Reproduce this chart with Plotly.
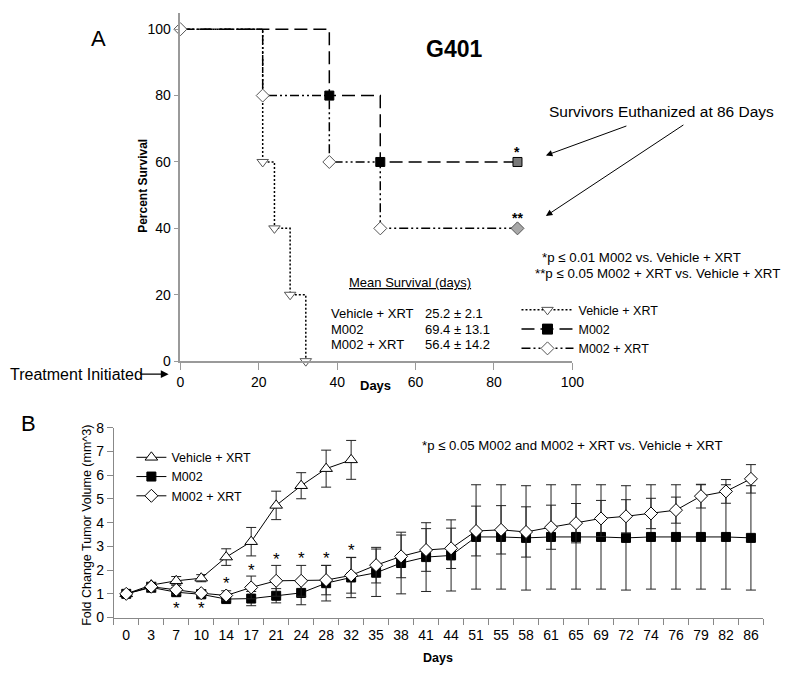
import plotly.graph_objects as go

W, H = 796, 678
FONT = "Arial, Liberation Sans, sans-serif"

# ---------------- Panel A data (Kaplan-Meier survival) ----------------
vehicle_days = [0, 21, 24, 28, 32]
vehicle_surv = [100, 60, 40, 20, 0]
m002_days = [0, 38, 51, 86]
m002_surv = [100, 80, 60, 60]
combo_days = [0, 21, 38, 51, 86]
combo_surv = [100, 80, 60, 40, 40]
series_names = ["Vehicle + XRT", "M002", "M002 + XRT"]
mean_survival = ["25.2 ± 2.1", "69.4 ± 13.1", "56.4 ± 14.2"]
xticks_a = [0, 20, 40, 60, 80, 100]
yticks_a = [0, 20, 40, 60, 80, 100]

# ---------------- Panel B data (tumor volume) ----------------
days_b = ["0", "3", "7", "10", "14", "17", "21", "24", "28", "32", "35", "38", "41",
          "44", "51", "55", "58", "61", "65", "69", "72", "74", "76", "79", "82", "86"]
vehicle_b = [1.0, 1.37, 1.55, 1.66, 2.55, 3.2, 4.73, 5.56, 6.28, 6.65]
vehicle_b_err = [0.05, 0.12, 0.18, 0.15, 0.35, 0.6, 0.6, 0.55, 0.78, 0.82]
m002_b = [1.0, 1.27, 1.07, 0.98, 0.78, 0.8, 0.92, 1.04, 1.45, 1.69, 1.89, 2.3, 2.55,
          2.62, 3.4, 3.4, 3.36, 3.4, 3.4, 3.4, 3.36, 3.4, 3.4, 3.4, 3.4, 3.36]
m002_b_err = [0.05, 0.2, 0.15, 0.15, 0.12, 0.3, 0.3, 0.5, 0.75, 0.85, 1.0, 1.3, 1.45,
              1.5, 2.2, 2.2, 2.2, 2.2, 2.2, 2.2, 2.2, 2.2, 2.2, 2.2, 2.2, 2.2]
combo_b = [1.0, 1.3, 1.17, 1.03, 0.93, 1.27, 1.55, 1.55, 1.58, 1.78, 2.21, 2.58, 2.85,
           2.92, 3.65, 3.7, 3.61, 3.81, 3.98, 4.18, 4.27, 4.39, 4.53, 5.12, 5.32, 5.85]
combo_b_err = [0.05, 0.15, 0.2, 0.15, 0.2, 0.48, 0.65, 0.65, 0.62, 0.75, 0.75, 0.9, 0.9,
               0.85, 1.05, 1.02, 1.06, 0.93, 0.83, 0.76, 0.7, 0.64, 0.55, 0.5, 0.5, 0.6]
star_days_b = ["7", "10", "14", "17", "21", "24", "28", "32"]
star_vals_b = [0.55, 0.55, 1.6, 2.17, 2.62, 2.65, 2.67, 2.99]


def px(x):
    return x / W


def py(y):
    return 1 - y / H


DASH_V = "2px,2px"
DASH_M = "13px,6px"
DASH_C = "9px,3px,2px,3px,2px,3px"

fig = go.Figure()

# ---- Panel A step lines ----
for d, s, dash in [(vehicle_days, vehicle_surv, DASH_V),
                   (m002_days, m002_surv, DASH_M),
                   (combo_days, combo_surv, DASH_C)]:
    fig.add_trace(go.Scatter(x=d, y=s, mode="lines", line=dict(shape="hv", color="black", width=1.5, dash=dash),
                             showlegend=False, hoverinfo="skip", cliponaxis=False, xaxis="x", yaxis="y"))

# ---- Panel A markers ----
fig.add_trace(go.Scatter(x=vehicle_days[1:], y=vehicle_surv[1:], mode="markers",
                         marker=dict(symbol="triangle-down", size=10, color="white", line=dict(color="#555", width=1)),
                         showlegend=False, cliponaxis=False, xaxis="x", yaxis="y"))
m_cols = ["black"] * (len(m002_days) - 2) + ["#7a7a7a"]
fig.add_trace(go.Scatter(x=m002_days[1:], y=m002_surv[1:], mode="markers",
                         marker=dict(symbol="square", size=9, color=m_cols, line=dict(color="black", width=1)),
                         showlegend=False, cliponaxis=False, xaxis="x", yaxis="y"))
c_cols = ["white"] * (len(combo_days) - 1) + ["#a8a8a8"]
fig.add_trace(go.Scatter(x=combo_days, y=combo_surv, mode="markers",
                         marker=dict(symbol="diamond", size=10, color=c_cols, line=dict(color="#555", width=1)),
                         showlegend=False, cliponaxis=False, xaxis="x", yaxis="y"))

# ---- Panel A legend entries ----
leg_a = [("triangle-down", "white", "#555", DASH_V),
         ("square", "black", "black", DASH_M),
         ("diamond", "white", "#555", DASH_C)]
for name, (sym, fc, lc, dash) in zip(series_names, leg_a):
    fig.add_trace(go.Scatter(x=[None], y=[None], mode="lines+markers", name=name,
                             line=dict(color="black", width=1.5, dash=dash),
                             marker=dict(symbol=sym, size=10, color=fc, line=dict(color=lc, width=1)),
                             legend="legend", xaxis="x", yaxis="y"))

# ---- Panel B ----
fig.add_trace(go.Scatter(x=days_b[:len(vehicle_b)], y=vehicle_b, mode="lines+markers", name="Vehicle + XRT",
                         line=dict(color="black", width=1),
                         marker=dict(symbol="triangle-up", size=11, color="white", line=dict(color="black", width=1)),
                         error_y=dict(type="data", array=vehicle_b_err, color="#222", thickness=1, width=5),
                         legend="legend2", xaxis="x2", yaxis="y2"))
fig.add_trace(go.Scatter(x=days_b, y=m002_b, mode="lines+markers", name="M002",
                         line=dict(color="black", width=1),
                         marker=dict(symbol="square", size=9, color="black", line=dict(color="black", width=1)),
                         error_y=dict(type="data", array=m002_b_err, color="#222", thickness=1, width=5),
                         legend="legend2", xaxis="x2", yaxis="y2"))
fig.add_trace(go.Scatter(x=days_b, y=combo_b, mode="lines+markers", name="M002 + XRT",
                         line=dict(color="black", width=1),
                         marker=dict(symbol="diamond", size=10, color="white", line=dict(color="black", width=1)),
                         error_y=dict(type="data", array=combo_b_err, color="#222", thickness=1, width=5),
                         legend="legend2", xaxis="x2", yaxis="y2"))

ann = []
T = dict(family=FONT, color="black")


def txt(x, y, s, size, bold=False, xanchor="center", **kw):
    ann.append(dict(x=px(x), y=py(y), xref="paper", yref="paper", text=("<b>%s</b>" % s) if bold else s,
                    showarrow=False, xanchor=xanchor, yanchor="middle", font=dict(size=size, **T), **kw))


txt(96, 31, "A", 22)
txt(459, 42, "G401", 23, bold=True)
txt(142, 182, "Percent Survival", 12, bold=True, textangle=-90)
txt(379, 387, "Days", 13, bold=True)
txt(554, 106, "Survivors Euthanized at 86 Days", 15.5, xanchor="left")
txt(547, 256, "*p ≤ 0.01 M002 vs. Vehicle + XRT", 13.3, xanchor="left")
txt(540, 272, "**p ≤ 0.05 M002 + XRT vs. Vehicle + XRT", 13.3, xanchor="left")
txt(350, 281, "<u>Mean Survival (days)</u>", 13, xanchor="left")
for i, (nm, ms) in enumerate(zip(series_names, mean_survival)):
    yy = 313 + 16 * i
    txt(332, yy, nm, 13, xanchor="left")
    txt(428, yy, ms, 13, xanchor="left")
txt(4, 375, "Treatment Initiated", 16, xanchor="left")
ann.append(dict(x=px(168), y=py(375), ax=-30, ay=0, xref="paper", yref="paper", text="",
                showarrow=True, arrowhead=2, arrowsize=1.3, arrowwidth=1.2, arrowcolor="black"))
# survivors arrows
for hx, hy, tx, ty in [(553, 151, 635, 121), (553, 213, 692, 121)]:
    ann.append(dict(x=px(hx), y=py(hy), ax=tx - hx, ay=ty - hy, xref="paper", yref="paper", text="",
                    showarrow=True, arrowhead=2, arrowsize=1.3, arrowwidth=1, arrowcolor="black"))
# significance stars panel A
ann.append(dict(x=m002_days[-1], y=m002_surv[-1], xref="x", yref="y", text="<b>*</b>", showarrow=False,
                yshift=10, font=dict(size=14, **T)))
ann.append(dict(x=combo_days[-1], y=combo_surv[-1], xref="x", yref="y", text="<b>**</b>", showarrow=False,
                yshift=10, font=dict(size=14, **T)))

# Panel B texts
txt(25, 426, "B", 22)
txt(85, 530, "Fold Change Tumor Volume (mm^3)", 12.5, textangle=-90)
txt(443, 666, "Days", 12.5, bold=True)
txt(580, 448, "*p ≤ 0.05 M002 and M002 + XRT vs. Vehicle + XRT", 13.2)
for d, v in zip(star_days_b, star_vals_b):
    ann.append(dict(x=days_b.index(d), y=v, xref="x2", yref="y2", text="*", showarrow=False,
                    yshift=-4, font=dict(size=17, **T)))

ax_gray = "#9a9a9a"
fig.update_layout(
    width=W, height=H, margin=dict(l=0, r=0, t=0, b=0),
    paper_bgcolor="white", plot_bgcolor="white",
    font=dict(family=FONT, color="black"),
    xaxis=dict(domain=[px(180), px(580)], range=[0, 100], tickvals=xticks_a, showgrid=False, zeroline=False,
               showline=True, linecolor=ax_gray, linewidth=1.5, ticks="outside", ticklen=7, tickcolor=ax_gray,
               tickfont=dict(size=14), anchor="y"),
    yaxis=dict(domain=[py(361.7), py(4.7)], range=[0, 105], tickvals=yticks_a, showgrid=False, zeroline=False,
               showline=True, linecolor=ax_gray, linewidth=1.5, ticks="outside", ticklen=5, tickcolor=ax_gray,
               tickfont=dict(size=14), anchor="x"),
    xaxis2=dict(domain=[px(112), px(775)], type="category", categoryorder="array", categoryarray=days_b,
                range=[-0.5, len(days_b) - 0.5], showgrid=False, zeroline=False, showline=True,
                linecolor="#888", linewidth=1, ticks="outside", tickson="boundaries", ticklen=6,
                tickcolor="#888", tickfont=dict(size=14), ticklabelstandoff=5, anchor="y2"),
    yaxis2=dict(domain=[py(624.3), py(430)], range=[0, 8], dtick=1, showgrid=False, zeroline=False,
                showline=True, linecolor="#888", linewidth=1, ticks="outside", ticklen=6, tickcolor="#888",
                tickfont=dict(size=14), anchor="x2"),
    legend=dict(x=px(523), y=py(329), xanchor="left", yanchor="middle", bgcolor="rgba(0,0,0,0)",
                font=dict(size=12.5), itemwidth=52, tracegroupgap=0),
    legend2=dict(x=px(130), y=py(480), xanchor="left", yanchor="middle", bgcolor="rgba(0,0,0,0)",
                 font=dict(size=12.5), itemwidth=30, tracegroupgap=0),
    annotations=ann,
    showlegend=True,
)

fig.write_html("out.html", config={"displayModeBar": False},
               post_script="document.body.style.margin='0';document.body.style.padding='0';")
